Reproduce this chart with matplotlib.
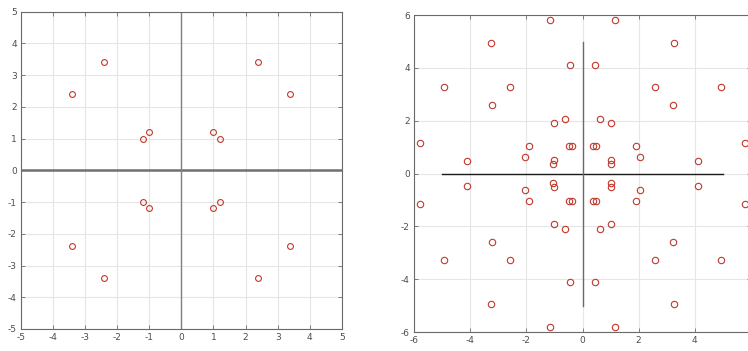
import numpy as np
import matplotlib.pyplot as plt

plt.rcParams['axes.unicode_minus'] = False

# Left constellation: points in the first quadrant, mirrored to the others
left_x_q1 = [1.0, 1.2, 2.4, 3.4]
left_y_q1 = [1.2, 1.0, 3.4, 2.4]

# Right constellation: upper half-plane points, mirrored about y = 0
right_x_top = [-1.17, 1.17, -3.27, 3.26, -0.46, 0.45, -4.92, -2.57, 2.57, 4.92,
               -3.23, 3.21, -0.64, 0.63, -1.02, 1.02, -5.79, 5.78, -1.91, -0.49,
               -0.38, 0.36, 0.47, 1.89, -2.06, 2.06, -4.12, 4.10, -1.01, -1.06,
               1.00, 1.03]
right_y_top = [5.82, 5.82, 4.95, 4.95, 4.12, 4.12, 3.28, 3.26, 3.26, 3.28,
               2.59, 2.59, 2.08, 2.08, 1.92, 1.92, 1.16, 1.16, 1.04, 1.04,
               1.05, 1.05, 1.04, 1.04, 0.64, 0.64, 0.47, 0.47, 0.51, 0.35,
               0.51, 0.35]

left_ticks = list(range(-5, 6))
right_ticks = list(range(-6, 7, 2))

mk_color = '#c0392b'
grid_color = '#e6e6e6'
spine_color = '#6a6a6a'
label_color = '#4d4d4d'

fig = plt.figure(figsize=(7.48, 3.51), dpi=100)
ax1 = fig.add_axes([0.028, 0.0627, 0.429, 0.904])
ax2 = fig.add_axes([0.5535, 0.054, 0.4505, 0.903])


def style(ax, ticks):
    ax.set_xticks(ticks)
    ax.set_yticks(ticks)
    ax.grid(True, color=grid_color, linewidth=0.8)
    ax.set_axisbelow(True)
    for s in ax.spines.values():
        s.set_color(spine_color)
        s.set_linewidth(0.8)
    ax.tick_params(direction='in', length=3, width=0.6, colors=spine_color,
                   labelcolor=label_color, labelsize=6.5, top=True, right=True,
                   pad=3)


# Left plot
lx = np.array(left_x_q1)
ly = np.array(left_y_q1)
all_lx = np.concatenate([lx, -lx, -lx, lx])
all_ly = np.concatenate([ly, ly, -ly, -ly])
ax1.axhline(0, color='#707070', linewidth=1.8, zorder=1)
ax1.axvline(0, color='#808080', linewidth=1.0, zorder=1)
ax1.plot(all_lx, all_ly, 'o', markerfacecolor='none', markeredgecolor=mk_color,
         markersize=4.2, markeredgewidth=0.8, zorder=3)
ax1.set_xlim(-5, 5)
ax1.set_ylim(-5, 5)
style(ax1, left_ticks)

# Right plot
rx = np.array(right_x_top)
ry = np.array(right_y_top)
all_rx = np.concatenate([rx, rx])
all_ry = np.concatenate([ry, -ry])
ax2.plot([-5, 5], [0, 0], color='#1a1a1a', linewidth=1.0, zorder=2)
ax2.plot([0, 0], [-5, 5], color='#6a6a6a', linewidth=1.0, zorder=2)
ax2.plot(all_rx, all_ry, 'o', markerfacecolor='none', markeredgecolor=mk_color,
         markersize=4.6, markeredgewidth=0.8, zorder=3)
ax2.set_xlim(-6, 6)
ax2.set_ylim(-6, 6)
style(ax2, right_ticks)

fig.savefig('out.png', dpi=100)
